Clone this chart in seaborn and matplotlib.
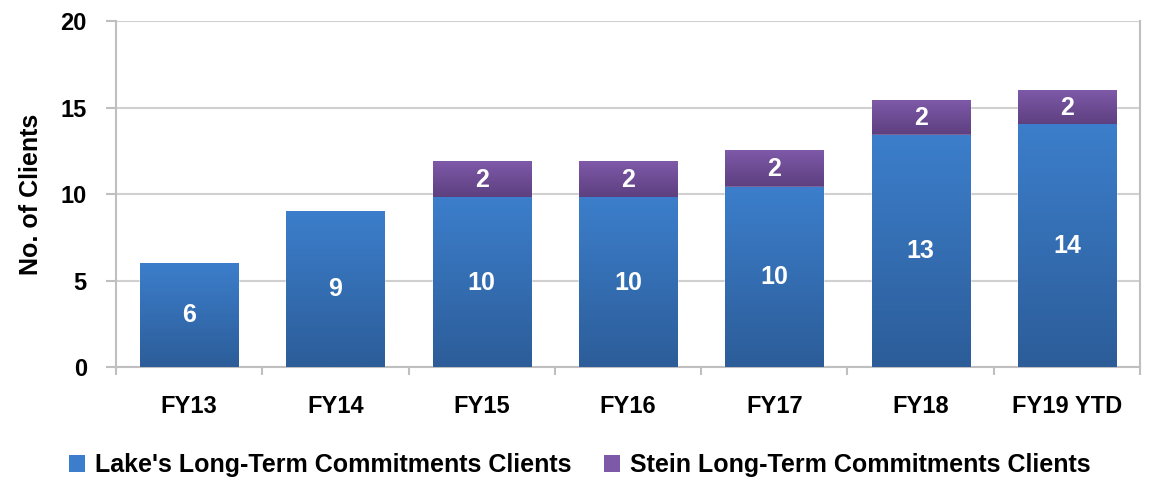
import numpy as np
import pandas as pd
import seaborn as sns
import matplotlib
matplotlib.use("Agg")
import matplotlib.pyplot as plt
from matplotlib.colors import LinearSegmentedColormap
from matplotlib.patches import Patch
from matplotlib.ticker import FixedLocator, NullFormatter

sns.set_theme(style="white")
plt.rcParams['font.family'] = ['Liberation Sans', 'DejaVu Sans']
plt.rcParams['font.weight'] = 'bold'
plt.rcParams['text.color'] = 'black'

years = ["FY13", "FY14", "FY15", "FY16", "FY17", "FY18", "FY19 YTD"]
lake = [6.0, 9.0, 9.8, 9.8, 10.4, 13.4, 14.0]
stein = [0.0, 0.0, 2.1, 2.1, 2.1, 2.0, 2.0]
series_names = ["Lake's Long-Term Commitments Clients", "Stein Long-Term Commitments Clients"]

lake_top, lake_bot = "#3c7ecb", "#2c5d99"
stein_top, stein_bot = "#7e59a8", "#5d3f7f"
grey = "#bfbfbf"

df = pd.DataFrame({"year": years, "lake": lake, "stein": stein})
df["total"] = df["lake"] + df["stein"]

fig = plt.figure(figsize=(11.56, 4.78), dpi=100)
ax = fig.add_axes([116 / 1156, 1 - 367.3 / 478, 1024 / 1156, 346 / 478])

# stacked bars: totals first, lake on top of them
sns.barplot(data=df, x="year", y="total", color=stein_top, width=0.67,
            saturation=1, zorder=2, ax=ax)
sns.barplot(data=df, x="year", y="lake", color=lake_top, width=0.67,
            saturation=1, zorder=4, ax=ax)

stein_bars = ax.containers[0]
lake_bars = ax.containers[1]


def shade(patch, y0, y1, top, bottom, z):
    x, w = patch.get_x(), patch.get_width()
    if y1 <= y0:
        return
    cmap = LinearSegmentedColormap.from_list("g", [bottom, top])
    grad = np.linspace(0, 1, 128).reshape(-1, 1)
    ax.imshow(grad, cmap=cmap, origin="lower", aspect="auto",
              extent=[x, x + w, y0, y1], zorder=z, interpolation="bilinear")


for i, p in enumerate(stein_bars.patches):
    shade(p, df["lake"][i], df["total"][i], stein_top, stein_bot, 3)
for i, p in enumerate(lake_bars.patches):
    shade(p, 0, df["lake"][i], lake_top, lake_bot, 5)

# data labels
ax.bar_label(lake_bars, labels=[f"{v:.0f}" for v in lake], label_type="center",
             color="white", fontsize=18, fontweight="bold", zorder=6)
for i, v in enumerate(stein):
    if v > 0:
        ax.text(i, lake[i] + v / 2, f"{v:.0f}", ha="center", va="center",
                color="white", fontsize=18, fontweight="bold", zorder=6)

ax.set_xlim(-0.5, len(years) - 0.5)
ax.set_ylim(0, 20)
ax.set_yticks([0, 5, 10, 15, 20])
ax.yaxis.grid(True, color="#d0d0d0", linewidth=1.5, zorder=0)
ax.set_axisbelow(True)

for s in ["left", "bottom", "right"]:
    ax.spines[s].set_color(grey)
    ax.spines[s].set_linewidth(1.5)
ax.spines["top"].set_visible(False)

ax.tick_params(axis="y", which="major", direction="out", length=7, width=1.5,
               color=grey, labelsize=17, pad=14, left=True, labelcolor="black")
ax.xaxis.set_minor_locator(FixedLocator(np.arange(-0.5, len(years), 1.0)))
ax.xaxis.set_minor_formatter(NullFormatter())
ax.tick_params(axis="x", which="minor", direction="out", length=6, width=1.5,
               color=grey, bottom=True)
ax.tick_params(axis="x", which="major", length=0, labelsize=17, pad=20,
               labelcolor="black")
for lbl in ax.get_xticklabels() + ax.get_yticklabels():
    lbl.set_fontweight("bold")

ax.set_xlabel("")
ax.set_ylabel("No. of Clients", fontsize=18, fontweight="bold", color="black")
ax.yaxis.set_label_coords(-0.071, 0.5)

handles = [Patch(facecolor=lake_top, edgecolor="none"),
           Patch(facecolor=stein_top, edgecolor="none")]
leg = fig.legend(handles, series_names, loc="center", bbox_to_anchor=(580 / 1156, 13 / 478),
                 ncol=2, frameon=False, prop={"size": 18, "weight": "bold"},
                 handlelength=0.64, handleheight=0.68, handletextpad=0.4,
                 columnspacing=1.3, borderpad=0)
for t in leg.get_texts():
    t.set_color("black")

fig.savefig("out.png", dpi=100)
